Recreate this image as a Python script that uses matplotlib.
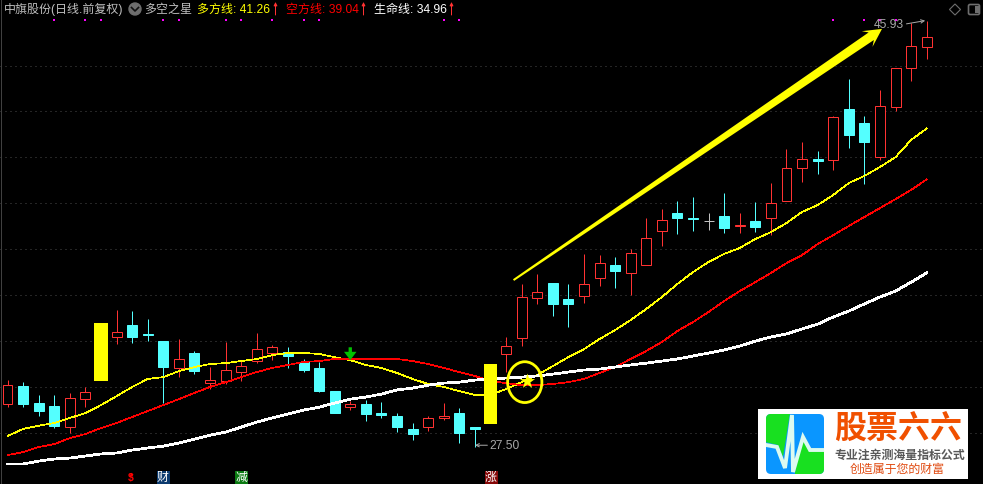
import numpy as np
import matplotlib
matplotlib.use("Agg")
import matplotlib.pyplot as plt
from matplotlib.patches import Ellipse, FancyBboxPatch, Polygon, Rectangle

plt.rcParams['font.family'] = ['Liberation Sans', 'Noto Sans CJK SC', 'DejaVu Sans']

# K线数据 (index 6 and 31 are covered by the yellow bars)
opens = [29.26, 30.03, 29.29, 29.16, 28.24, 29.48, np.nan, 32.18, 32.69, 32.30,
         31.99, 30.83, 31.47, 30.17, 30.26, 30.64, 31.13, 31.47, 31.51, 31.08,
         30.82, 29.81, 29.11, 29.25, 28.85, 28.72, 28.16, 28.26, 28.64, 28.85,
         28.24, np.nan, 31.43, 32.14, 33.88, 34.52, 33.82, 33.97, 34.75, 35.31,
         34.97, 35.32, 36.80, 37.57, 37.36, 37.22, 37.44, 37.02, 37.22, 37.37,
         38.11, 39.54, 39.93, 39.90, 42.11, 41.50, 40.01, 42.21, 43.91, 44.82]
closes = [30.06, 29.25, 28.94, 28.29, 29.51, 29.76, np.nan, 32.37, 32.17, 32.27,
          30.86, 31.19, 30.68, 30.29, 30.73, 30.90, 31.63, 31.73, 31.35, 30.73,
          29.81, 28.85, 29.25, 28.81, 28.78, 28.24, 27.94, 28.64, 28.72, 27.98,
          28.17, np.nan, 31.77, 33.91, 34.13, 33.61, 33.61, 34.48, 35.39, 35.04,
          35.83, 36.48, 37.27, 37.36, 37.31, 37.22, 36.92, 37.05, 36.96, 38.01,
          39.54, 39.93, 39.84, 41.76, 40.97, 40.67, 42.24, 43.90, 44.85, 45.25]
highs = [30.29, 30.20, 29.64, 29.64, 29.73, 29.99, np.nan, 33.34, 33.30, 32.95,
         31.99, 32.08, 31.56, 30.86, 31.96, 31.16, 32.34, 31.82, 31.73, 31.21,
         31.08, 29.81, 29.38, 29.42, 29.33, 28.85, 28.42, 28.72, 29.29, 29.07,
         28.24, np.nan, 32.17, 34.48, 34.91, 34.52, 34.48, 35.79, 35.74, 35.65,
         36.00, 37.36, 37.75, 38.10, 38.27, 37.57, 38.45, 37.57, 38.05, 38.88,
         40.36, 40.67, 40.28, 41.80, 43.42, 41.80, 42.94, 43.90, 45.86, 45.94]
lows = [29.11, 29.13, 28.72, 28.20, 27.98, 29.11, np.nan, 31.86, 31.91, 31.99,
        29.29, 30.42, 30.55, 29.90, 30.12, 30.25, 31.03, 31.18, 30.82, 30.64,
        29.77, 28.85, 28.98, 28.50, 28.64, 28.02, 27.68, 28.07, 28.55, 27.55,
        27.38, np.nan, 30.65, 31.77, 33.61, 33.08, 32.60, 33.65, 34.39, 34.30,
        34.00, 35.32, 36.13, 36.66, 36.79, 36.83, 36.70, 36.70, 36.74, 36.61,
        38.11, 38.92, 39.27, 39.45, 40.41, 38.84, 39.88, 42.02, 43.33, 44.29]

# 均线
duofang = [27.85, 28.16, 28.30, 28.42, 28.64, 28.85, 29.20, 29.59, 29.99, 30.34,
           30.42, 30.68, 30.86, 30.99, 31.03, 31.12, 31.21, 31.38, 31.47, 31.47,
           31.43, 31.29, 31.16, 30.95, 30.82, 30.60, 30.34, 30.12, 29.99, 29.81,
           29.64, 29.64, 29.90, 30.20, 30.51, 30.90, 31.29, 31.64, 32.08, 32.47,
           32.91, 33.39, 33.91, 34.48, 35.00, 35.44, 35.79, 36.05, 36.44, 36.74,
           37.14, 37.62, 37.92, 38.36, 38.88, 39.19, 39.58, 40.01, 40.76, 41.26]
kongfang = [27.02, 27.15, 27.37, 27.50, 27.76, 27.94, 28.20, 28.42, 28.68, 28.94,
            29.20, 29.46, 29.73, 29.99, 30.20, 30.42, 30.64, 30.82, 30.95, 31.08,
            31.12, 31.21, 31.21, 31.21, 31.21, 31.21, 31.12, 30.99, 30.82, 30.64,
            30.47, 30.25, 30.16, 30.07, 30.07, 30.12, 30.20, 30.34, 30.60, 30.86,
            31.21, 31.56, 31.95, 32.43, 32.82, 33.26, 33.74, 34.17, 34.56, 34.96,
            35.39, 35.74, 36.22, 36.61, 37.01, 37.40, 37.79, 38.18, 38.58, 39.04]
shengming = [26.63, 26.63, 26.76, 26.85, 26.89, 26.98, 27.07, 27.11, 27.24, 27.33,
             27.41, 27.55, 27.72, 27.89, 28.02, 28.24, 28.46, 28.64, 28.81, 28.98,
             29.11, 29.29, 29.46, 29.55, 29.68, 29.86, 29.94, 30.07, 30.16, 30.20,
             30.29, 30.34, 30.38, 30.42, 30.47, 30.55, 30.64, 30.73, 30.77, 30.86,
             30.95, 31.03, 31.12, 31.21, 31.34, 31.47, 31.60, 31.77, 31.99, 32.17,
             32.30, 32.52, 32.73, 33.04, 33.30, 33.61, 33.91, 34.17, 34.56, 34.96]

grid_levels = [44, 42, 40, 38, 36, 34, 32, 30, 28]
yellow_idx = [6, 31]
yellow_top = [32.78, 30.99]
yellow_bottom = [30.25, 28.37]
dot_idx = [3, 5, 6, 10, 11, 14, 15, 17, 19, 20, 28, 29, 53, 55, 56, 57]
dot_price = 46.0

W, H = 983, 484
RED = '#ff3232'
CYAN = '#54ffff'
GRAY = '#a8a8a8'
PX = 0.72  # one pixel in points

fig = plt.figure(figsize=(W / 100, H / 100), dpi=100, facecolor='black')
ax = fig.add_axes([0, 0, 1, 1], facecolor='black')
ax.set_xlim(-7.5 / 15.58, (W - 7.5) / 15.58)
ax.set_ylim(25.76, 46.86)
ax.axis('off')

idx = np.arange(len(opens))
opens = np.array(opens)
closes = np.array(closes)
highs = np.array(highs)
lows = np.array(lows)

ax.hlines(grid_levels, ax.get_xlim()[0], ax.get_xlim()[1], color='#4a4a4a',
          lw=PX, linestyle=(0, (1, 4)), zorder=1)

# 蜡烛
for i in idx:
    if np.isnan(opens[i]):
        continue
    top = max(opens[i], closes[i])
    bot = min(opens[i], closes[i])
    if opens[i] == closes[i]:
        c = '#c0c0c0'
    elif closes[i] > opens[i]:
        c = RED
    else:
        c = CYAN
    ax.plot([i, i], [top, highs[i]], color=c, lw=PX, solid_capstyle='butt', zorder=2)
    ax.plot([i, i], [lows[i], bot], color=c, lw=PX, solid_capstyle='butt', zorder=2)
    if c == RED:
        ax.bar(i, top - bot, 0.64, bottom=bot, facecolor='black', edgecolor=c,
               linewidth=PX, zorder=3)
    else:
        ax.bar(i, top - bot, 0.64, bottom=bot, facecolor=c, edgecolor=c,
               linewidth=PX, zorder=3)

ax.plot(idx, duofang, color='#ffff00', lw=0.5, antialiased=False, zorder=4)
ax.plot(idx, kongfang, color='#ff0000', lw=0.5, antialiased=False, zorder=4)
ax.plot(idx, shengming, color='white', lw=1.25, antialiased=False, zorder=4)

ax.bar(yellow_idx, np.array(yellow_top) - np.array(yellow_bottom), 0.84,
       bottom=yellow_bottom, color='#ffff00', zorder=5)

# 绿色箭头
ax.annotate('', xy=(22, 31.16), xytext=(22, 31.72),
            arrowprops=dict(facecolor='#00c000', edgecolor='none', width=2.4,
                            headwidth=9, headlength=6, shrink=0), zorder=6)

# 圆圈和星
ax.add_patch(Ellipse((33.2, 30.20), 2.2, 1.78, fill=False, edgecolor='#ffff00',
                     lw=2.0, zorder=6))
ax.scatter([33.34], [30.25], marker='*', s=130, color='#ffff00', linewidths=0, zorder=7)

ax.scatter(dot_idx, [dot_price] * len(dot_idx), marker='s', s=3.5, color='#ff00ff',
           linewidths=0, zorder=3)

# 上涨大箭头
start = ax.transData.transform((32.48, 34.65))
tip = ax.transData.transform((56.13, 45.60))
u = (tip - start) / np.hypot(*(tip - start))
n = np.array([-u[1], u[0]])
neck = tip - 13 * u
arrow_pts = [start + 1.0 * n, neck + 4.6 * n, tip - 18 * u + 9.5 * n, tip,
             tip - 18 * u - 9.5 * n, neck - 4.6 * n, start - 1.0 * n]
fig.add_artist(Polygon(arrow_pts, closed=True, facecolor='#ffff00', edgecolor='none',
                       transform=None, zorder=8))

# 最高最低价标注
ax.text(30.9, 27.40, '27.50', color=GRAY, fontsize=8.64, va='center', ha='left', zorder=7)
ax.annotate('', xy=(30.0, 27.45), xytext=(30.8, 27.45),
            arrowprops=dict(arrowstyle='->', color=GRAY, lw=PX, shrinkA=0, shrinkB=0,
                            mutation_scale=6))
ax.text(55.6, 45.78, '45.93', color=GRAY, fontsize=8.64, va='center', ha='left', zorder=9)
ax.annotate('', xy=(58.9, 45.96), xytext=(57.7, 45.82),
            arrowprops=dict(arrowstyle='->', color=GRAY, lw=PX, shrinkA=0, shrinkB=0,
                            mutation_scale=6), zorder=9)

# 像素坐标层: 标题, 图标, 标记, logo
px = fig.add_axes([0, 0, 1, 1], facecolor='none')
px.set_xlim(0, W)
px.set_ylim(H, 0)
px.axis('off')

px.plot([0.5, 0.5], [0, H], color='#404040', lw=PX)


def label(x, s, color):
    px.text(x, 9.5, s, color=color, fontsize=8.64, va='center', ha='left')


def up_arrow(x, color):
    px.annotate('', xy=(x, 2), xytext=(x, 15),
                arrowprops=dict(arrowstyle='-|>', color=color, lw=PX, shrinkA=0,
                                shrinkB=0, mutation_scale=5))


label(4, '中旗股份(日线.前复权)', '#c0c0c0')
px.add_patch(plt.Circle((135, 9), 6, color='#6e6e6e'))
px.plot([131.5, 135, 138.5], [7.5, 11, 7.5], color='#111111', lw=1.2)
label(144, '多空之星', '#c0c0c0')
label(197, '多方线: 41.26', '#ffff00')
up_arrow(275.5, RED)
label(286, '空方线: 39.04', '#ff0000')
up_arrow(363.5, RED)
label(374, '生命线: 34.96', 'white')
up_arrow(451.5, RED)

px.add_patch(Polygon([(955, 4), (960.5, 9.5), (955, 15), (949.5, 9.5)], closed=True,
                     fill=False, edgecolor='#6e6e6e', lw=0.8))
px.add_patch(FancyBboxPatch((969, 5), 10, 9, boxstyle='round,pad=0.5,rounding_size=1.5',
                            fill=False, edgecolor='#6e6e6e', lw=1.2))
px.add_patch(Rectangle((975, 6), 3.5, 7, color='#6e6e6e', lw=0))

# 底部信息标记
px.text(131, 478.5, '$', color='#ff0000', fontsize=7.5, fontweight='bold', ha='center', va='center')
px.scatter([131], [473.5], marker='^', s=7, color='#ff0000', linewidths=0)
for x, s, bg in [(163, '财', '#0b3a6e'), (241.5, '减', '#0b7a12'), (491, '涨', '#860808')]:
    px.add_patch(Rectangle((x - 6.5, 471), 13, 13, color=bg, lw=0))
    px.text(x, 477.5, s, color='white', fontsize=8.6, ha='center', va='center')

# logo
px.add_patch(Rectangle((758, 409), 210, 70, color='white', lw=0, zorder=10))
badge = FancyBboxPatch((769, 417), 52, 54, boxstyle='round,pad=3,rounding_size=5',
                       facecolor='#0a96ff', edgecolor='none', zorder=11)
px.add_patch(badge)
green_a = Polygon([(765, 413), (790, 413), (783, 457), (778, 445), (765, 442)],
                  closed=True, color='#18e020', lw=0, zorder=12)
green_b = Polygon([(795, 472), (803, 438), (810, 451), (825, 451), (825, 475), (795, 475)],
                  closed=True, color='#18e020', lw=0, zorder=12)
px.add_patch(green_a)
px.add_patch(green_b)
green_a.set_clip_path(badge)
green_b.set_clip_path(badge)
pulse, = px.plot([766, 777, 785, 792, 793, 803, 810, 824],
                 [445, 447, 468, 415, 472, 437, 450, 450],
                 color='#dcfaf0', lw=2.8, zorder=13, solid_joinstyle='miter')
pulse.set_clip_path(badge)
px.text(898.5, 431, '股票六六', color='#f05000', fontsize=23, fontweight='bold',
        ha='center', va='center', zorder=13)
px.text(900, 455.5, '专业注亲测海量指标公式', color='#585858', fontsize=8.6,
        fontweight='bold', ha='center', va='center', zorder=13)
px.text(897, 469.5, '创造属于您的财富', color='#e04a10', fontsize=8.6,
        ha='center', va='center', zorder=13)

fig.savefig('out.png', dpi=100, facecolor='black')
